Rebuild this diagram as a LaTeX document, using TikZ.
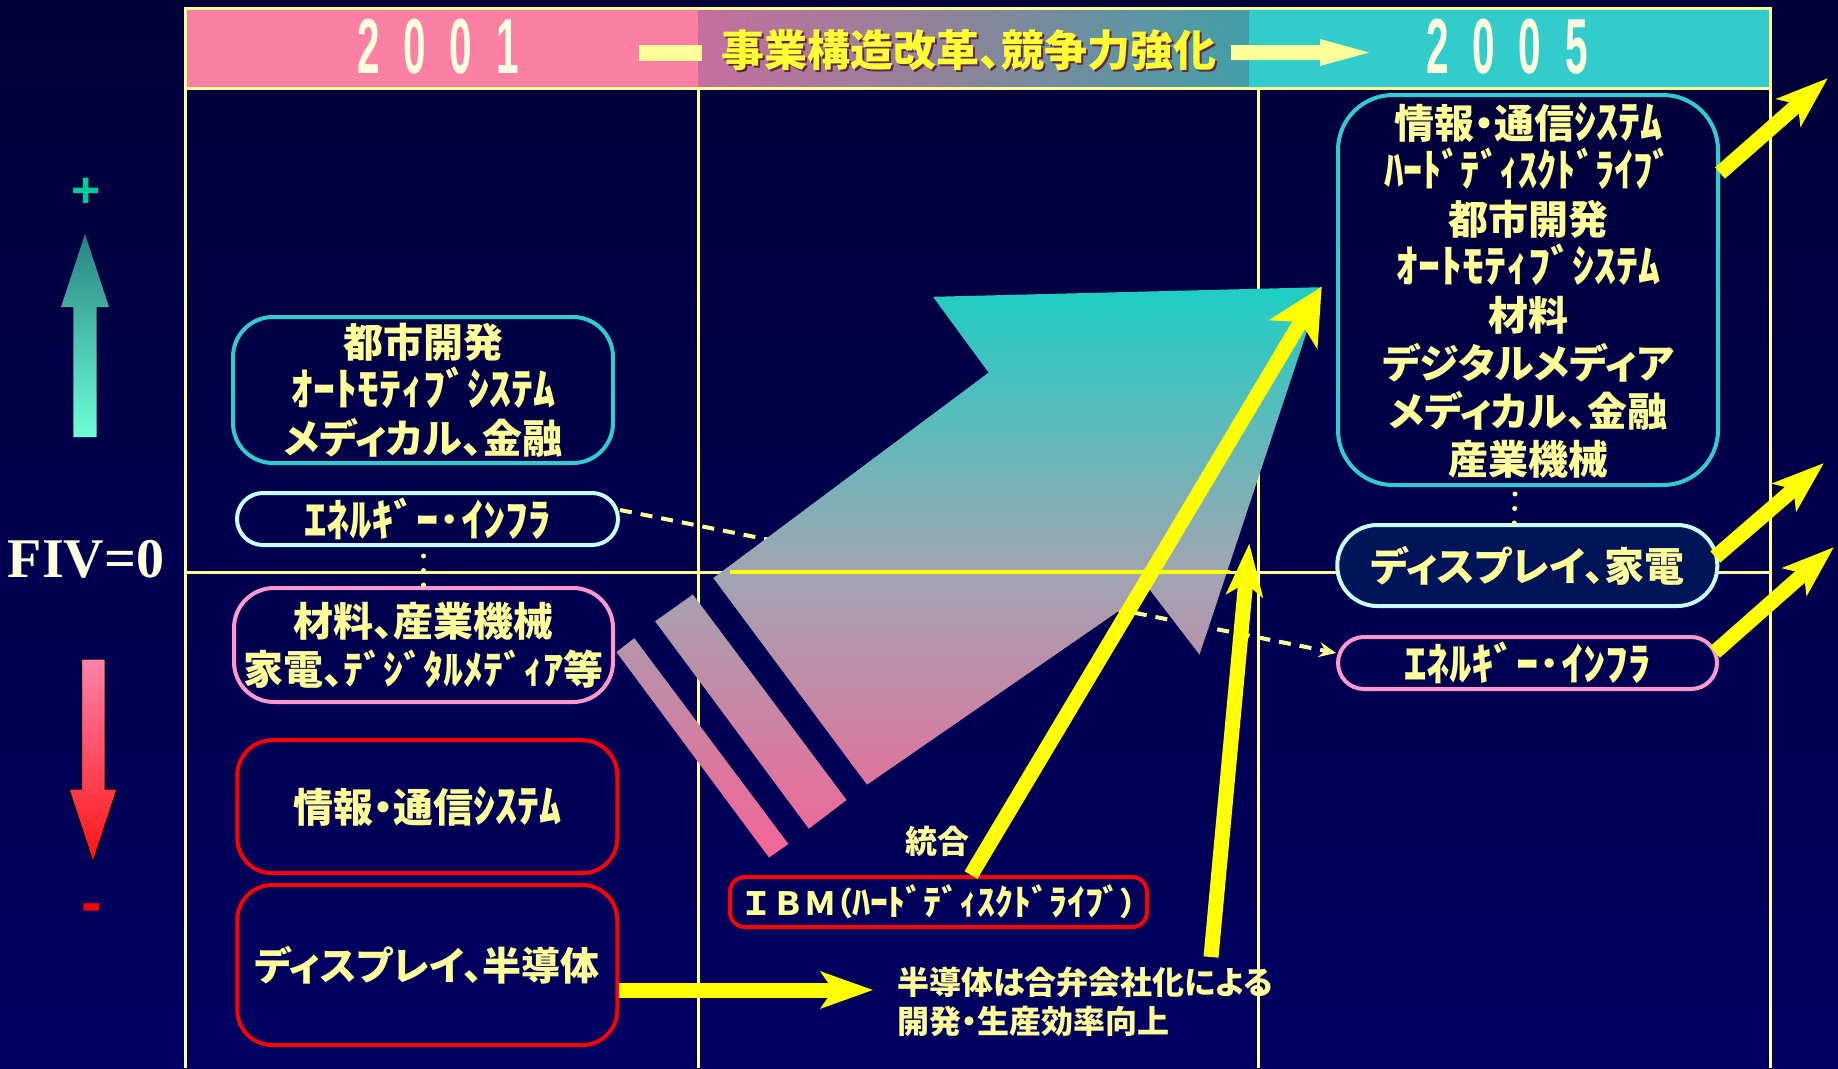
\documentclass[tikz,border=0pt]{standalone}
\usepackage{fontspec}
\usepackage{graphicx}
\usetikzlibrary{arrows.meta,patterns}
\newfontfamily\jp[RawFeature=+palt]{Noto Sans CJK JP}
\newfontfamily\jpw{Noto Sans CJK JP}
\newfontfamily\ser{Liberation Serif}
\newfontfamily\san{Liberation Sans}
\newcommand\hw[2][1.1]{\scalebox{#1}[1.12]{#2}}
\definecolor{bgtop}{RGB}{0,0,56}
\definecolor{bgbot}{RGB}{0,0,98}
\definecolor{gridc}{RGB}{255,255,153}
\definecolor{txty}{RGB}{255,255,153}
\definecolor{teal1}{RGB}{51,204,204}
\definecolor{lcyan}{RGB}{200,255,255}
\definecolor{pinkb}{RGB}{255,153,204}
\definecolor{redb}{RGB}{255,0,0}
\definecolor{yel}{RGB}{255,255,0}
\definecolor{hpink}{RGB}{252,128,164}
\definecolor{hcyan}{RGB}{51,204,204}
\definecolor{hmidl}{RGB}{196,104,152}
\definecolor{hmidm}{RGB}{130,128,150}
\definecolor{hmidr}{RGB}{56,154,164}
\definecolor{cream}{RGB}{255,255,221}
\definecolor{ttl}{RGB}{255,255,51}
\definecolor{ttlsh}{RGB}{100,40,70}
\definecolor{gtop}{RGB}{30,206,196}
\definecolor{gmid}{RGB}{160,165,178}
\definecolor{gbot}{RGB}{245,100,150}
\definecolor{plusc}{RGB}{0,204,153}
\definecolor{upt}{RGB}{40,130,130}
\definecolor{upb}{RGB}{110,255,215}
\definecolor{dnt}{RGB}{255,130,170}
\definecolor{dnb}{RGB}{255,20,20}
\definecolor{r2fill}{RGB}{0,20,90}
\begin{document}
\begin{tikzpicture}[x=1pt,y=-1pt,
  gridl/.style={draw=gridc,line width=3pt},
  jpt/.style={font=\jp\bfseries\fontsize{40}{48}\selectfont,text=txty,align=center},
  bx/.style={jpt,draw,line width=4pt,inner sep=0pt,shape=rectangle},
  yarr/.style={draw=yel,line width=15pt,-{Stealth[length=52pt,width=36pt,inset=12pt]}},
  dotl/.style={draw=gridc,line width=5pt,line cap=round,dash pattern=on 0pt off 14.5pt},
  dashl/.style={draw=gridc,line width=4pt,dash pattern=on 12pt off 9pt,-{Stealth[length=17pt,width=15pt,inset=6pt]}}
]
\useasboundingbox (0,0) rectangle (1838,1068);
\shade[top color=bgtop,bottom color=bgbot] (0,0) rectangle (1838,1068);

% header band
\fill[hpink] (185,8) rectangle (698,88);
\shade[left color=hmidl,right color=hmidr,middle color=hmidm] (698,8) rectangle (1249,88);
\fill[pattern=north east lines,pattern color=white,opacity=0.14] (698,8) rectangle (1249,88);
\fill[hcyan] (1249,8) rectangle (1770,88);

% grid
\draw[gridl] (185,1068) -- (185,8) -- (1770,8) -- (1770,1068);
\draw[gridl] (185,88) -- (1770,88);
\draw[gridl] (698.6,88) -- (698.6,1068);
\draw[gridl] (1258,88) -- (1258,1068);
\draw[gridl] (185,572) -- (1770,572);

% header texts
\node[font=\san\bfseries\fontsize{78}{78}\selectfont,text=cream,inner sep=0pt] (y01) at (438,47)
  {\scalebox{0.52}[1]{2\hspace{46pt}0\hspace{46pt}0\hspace{46pt}1}};
\node[font=\san\bfseries\fontsize{78}{78}\selectfont,text=cream,inner sep=0pt] (y05) at (1507,47)
  {\scalebox{0.52}[1]{2\hspace{46pt}0\hspace{46pt}0\hspace{46pt}5}};
\fill[gridc] (639,45) rectangle (702,61);
\fill[gridc] (1231,45) -- (1320,45) -- (1320,39) -- (1369,52.5) -- (1320,66) -- (1320,60) -- (1231,60) -- cycle;
\node[font=\jp\bfseries\fontsize{43}{43}\selectfont,text=ttlsh,inner sep=0pt] (ttls) at (971,52) {事業構造改革、競争力強化};
\node[font=\jp\bfseries\fontsize{43}{43}\selectfont,text=ttl,inner sep=0pt] (ttl) at (969,50) {事業構造改革、競争力強化};

% left scale
\node[font=\san\bfseries\fontsize{50}{50}\selectfont,text=plusc,inner sep=0pt,anchor=base] (plus) at (86,207) {+};
\shade[top color=upt,bottom color=upb] (85,234) -- (109,307) -- (96.7,307) -- (96.7,437) -- (73.3,437) -- (73.3,307) -- (61,307) -- cycle;
\node[font=\ser\bfseries\fontsize{56}{56}\selectfont,text=cream,inner sep=0pt] (fiv) at (86,559) {FIV=0};
\shade[top color=dnt,bottom color=dnb,draw=black,line width=1pt] (81.7,659) -- (105,659) -- (105,789) -- (117,789) -- (93,862) -- (69,789) -- (81.7,789) -- cycle;
\node[font=\san\bfseries\fontsize{62}{62}\selectfont,text=redb,inner sep=0pt,anchor=base] (minus) at (91.5,923) {-};

% boxes 2001
\node[bx,draw=teal1,minimum width=380pt,minimum height=146pt,rounded corners=40pt] (L1) at (423,390)
  {都市開発\\\hw{ｵｰﾄﾓﾃｨﾌﾞｼｽﾃﾑ}\\メディカル、金融};
\node[bx,draw=lcyan,minimum width=381pt,minimum height=52pt,rounded corners=26pt] (L2) at (427.5,519)
  {\hw[1.12]{ｴﾈﾙｷﾞｰ･ｲﾝﾌﾗ}};
\node[bx,draw=pinkb,minimum width=379pt,minimum height=114pt,rounded corners=40pt] (L3) at (423.5,645)
  {材料、産業機械\\家電、ﾃﾞｼﾞﾀﾙﾒﾃﾞｨｱ等};
\node[bx,draw=redb,minimum width=380pt,minimum height=133pt,rounded corners=35pt] (L4) at (427.3,806.7)
  {情報・通信\hw{ｼｽﾃﾑ}};
\node[bx,draw=redb,minimum width=380pt,minimum height=160pt,rounded corners=35pt,
  font=\jp\bfseries\fontsize{39}{39}\selectfont] (L5) at (427.3,965)
  {ディスプレイ、半導体};

% boxes 2005
\node[bx,draw=teal1,minimum width=380pt,minimum height=390pt,rounded corners=55pt] (R1) at (1528,290)
  {情報・通信\hw{ｼｽﾃﾑ}\\\hw[0.96]{ﾊｰﾄﾞﾃﾞｨｽｸﾄﾞﾗｲﾌﾞ}\\都市開発\\\hw{ｵｰﾄﾓﾃｨﾌﾞｼｽﾃﾑ}\\材料\\デジタルメディア\\メディカル、金融\\産業機械};
\node[bx,draw=lcyan,fill=r2fill,minimum width=380pt,minimum height=81pt,rounded corners=40pt,
  font=\jp\bfseries\fontsize{40}{40}\selectfont] (R2) at (1527.3,565.5)
  {ディスプレイ、家電};
\node[bx,draw=pinkb,minimum width=379pt,minimum height=52pt,rounded corners=26pt] (R3) at (1527.5,663)
  {\hw[1.12]{ｴﾈﾙｷﾞｰ･ｲﾝﾌﾗ}};

% IBM box
\node[bx,draw=redb,minimum width=417pt,minimum height=50pt,rounded corners=15pt,
  font=\jp\bfseries\fontsize{32}{32}\selectfont] (IBM) at (938.5,902)
  {{\jpw ＩＢＭ}（\hw[1.12]{ﾊｰﾄﾞﾃﾞｨｽｸﾄﾞﾗｲﾌﾞ}）};

% dotted and dashed connectors
\draw[dotl] ([yshift=-9pt]L2.south -| L3.north) -- (L3.north);
\draw[dotl] ([xshift=-13pt,yshift=-7pt]R1.south) -- ([xshift=-13pt]R2.north);
\draw[dashl] ([yshift=9pt]L2.east) -- ([yshift=10pt]R3.west);

% big gradient arrow with stripes
\shade[top color=gtop,bottom color=gbot,middle color=gmid]
  (713.3,578) -- (988.6,372.6) -- (933,296.8) -- (1321.6,287.2) -- (1199.5,654.6) -- (1149.6,589.6) -- (867,784.7) -- cycle
  (655.1,621.3) -- (692.9,594.5) -- (846.6,800) -- (808.8,828.7) -- cycle
  (616.4,652) -- (634.3,638.2) -- (788.4,844) -- (769,857.5) -- cycle;
\draw[yel,line width=4pt] (730,572) -- (1230,572);

% labels
\node[jpt,font=\jp\bfseries\fontsize{32}{32}\selectfont,inner sep=0pt] (toug) at (937,841) {統合};
\node[jpt,font=\jp\bfseries\fontsize{32}{38.5}\selectfont,align=left,inner sep=0pt,anchor=north west] (semi) at (897,967)
  {半導体は合弁会社化による\\開発・生産効率向上};

% yellow arrows
\coordinate (tA) at (1321.7,286.7);
\coordinate (a2s) at (1211,957);
\coordinate (tB) at (1249.3,543.3);
\coordinate (tH) at (873.3,990);
\coordinate (t1) at (1828,78);
\coordinate (t2) at (1824,463);
\coordinate (t3) at (1834,547);
\draw[yarr,-{Stealth[length=55pt,width=55pt,inset=14pt]}] ([xshift=32.5pt]IBM.north) -- (tA);
\draw[yarr] (a2s) -- (tB);
\draw[yarr] ([yshift=-25pt]L5.east) -- (tH);
\draw[yarr] ([yshift=117pt]R1.east) -- (t1);
\draw[yarr] ([xshift=-4pt,yshift=8.5pt]R2.east) -- (t2);
\draw[yarr] ([xshift=-4pt,yshift=11pt]R3.east) -- (t3);
\end{tikzpicture}
\end{document}
